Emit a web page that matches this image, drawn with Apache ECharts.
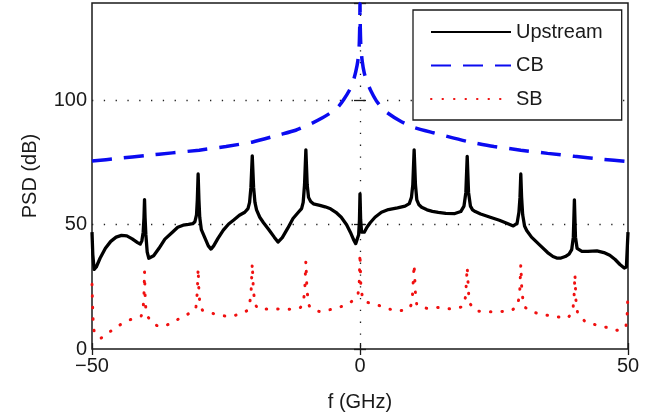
<!DOCTYPE html>
<html>
<head>
<meta charset="utf-8">
<script src="https://cdn.jsdelivr.net/npm/echarts@6/dist/echarts.min.js"></script>
<style>
  html, body { margin: 0; padding: 0; background: #fff; }
  #chart { width: 663px; height: 417px; }
</style>
</head>
<body>
<div id="chart"></div>
<script>
// Power spectral density versus frequency offset
const xTicks = [-50, 0, 50];
const yTicks = [0, 50, 100];

// Upstream spectrum: [f (GHz), PSD (dB)]
const upstream = [
  [-50, 47], [-49.85, 38], [-49.6, 32], [-49.2, 33], [-48.5, 36.5], [-47.5, 40.5],
  [-46.5, 43.3], [-45.5, 45], [-44.5, 45.7], [-43.5, 45.5], [-42.5, 44.3], [-41.5, 42.8],
  [-41.0, 42.2], [-40.7, 43.5], [-40.45, 47], [-40.3, 53], [-40.2, 60.1], [-40.1, 53],
  [-39.95, 46], [-39.7, 39], [-39.4, 36.5], [-39.1, 36.2], [-38.5, 37.5], [-37.5, 40.5],
  [-36.4, 44.2], [-35, 47], [-34, 49], [-33, 49.8], [-32, 50.1], [-31.2, 50.4],
  [-30.8, 51.2], [-30.5, 54], [-30.35, 60], [-30.2, 70.4], [-30.05, 60], [-29.9, 53],
  [-29.6, 48], [-29, 45], [-28.3, 41.5], [-27.8, 40.2], [-27.3, 41.5], [-26.5, 44.5],
  [-25.5, 47.8], [-24.5, 50.3], [-23.5, 52], [-22.5, 53.8], [-21.5, 55], [-20.9, 56.5],
  [-20.6, 59], [-20.35, 65], [-20.1, 77.7], [-19.85, 65], [-19.6, 59], [-19.3, 56],
  [-18.7, 53], [-18, 50.8], [-17, 48], [-16, 45], [-15.3, 43], [-15.1, 43],
  [-14.5, 44.8], [-13.5, 48.5], [-12.5, 52.5], [-11.5, 55], [-10.9, 56.5], [-10.6, 59],
  [-10.35, 66], [-10.1, 80.1], [-9.85, 66], [-9.6, 61], [-9.2, 59.3], [-8.7, 58.4],
  [-7.5, 57.8], [-6.5, 57.2], [-5.5, 56.4], [-4.5, 55], [-3.5, 53], [-2.5, 50],
  [-1.8, 47], [-1.2, 44], [-0.8, 42.4], [-0.5, 42.8], [-0.25, 46], [-0.1, 52],
  [0, 62.4], [0.12, 52], [0.3, 47], [0.5, 46.4], [0.8, 47], [1.3, 49],
  [1.9, 50.8], [2.8, 53], [4, 55], [5.3, 56.1], [7, 56.8], [8.4, 57.5],
  [9.2, 58.5], [9.6, 61], [9.85, 66], [10.1, 80.1], [10.35, 66], [10.6, 60],
  [11, 58], [11.5, 57], [12.5, 56], [13.5, 55.4], [14.6, 55], [16, 54.6],
  [17.7, 54.5], [18.8, 55.3], [19.4, 57.5], [19.75, 63], [20, 77.5], [20.25, 63],
  [20.6, 57.5], [21, 56], [21.5, 55.3], [22.5, 54.3], [24.3, 53], [26, 51.8],
  [27.5, 50.5], [28.6, 49.5], [29.3, 50.5], [29.65, 55], [29.85, 61], [30, 70.4],
  [30.15, 61], [30.35, 54], [30.7, 49.5], [31.1, 47.7], [32, 45], [33.6, 41.7],
  [35, 38.8], [36, 37.2], [36.7, 36.6], [37.5, 36.6], [38.3, 37.2], [39, 38.2],
  [39.5, 40], [39.8, 45], [40, 60], [40.2, 45], [40.5, 40.5], [41.4, 39.3],
  [42.5, 39.3], [44.2, 39.5], [45.5, 38.8], [46.6, 37.7], [47.6, 36], [48.5, 34],
  [49.3, 32.6], [49.7, 33], [50, 47]
];

// CB spectrum
const cb = [
  [-50, 75.6], [-45, 76.7], [-40, 77.8], [-35, 78.9], [-30, 80.0], [-25, 81.5],
  [-20, 83.3], [-15, 86.2], [-12, 88.0], [-9, 90.8], [-7, 93], [-5, 95.7],
  [-4, 97.6], [-3, 100.5], [-2, 104], [-1.3, 107.5], [-0.8, 111.5], [-0.4, 116],
  [-0.15, 122], [-0.03, 132], [0, 139], [0.03, 132], [0.15, 122], [0.4, 116],
  [0.8, 111], [1.3, 107.5], [2, 104], [3, 100], [4, 97.2], [5, 95.2],
  [7.5, 91.7], [10, 89.2], [13.7, 87], [20, 83.5], [25, 81.5], [30, 80],
  [35, 78.7], [40, 77.5], [45, 76.4], [50, 75.4]
];

// SB spectrum
const sb = [
  [-50, 26], [-49.9, 18], [-49.75, 9], [-49.5, 6], [-48.3, 4.4], [-46.5, 7.2],
  [-44.8, 9.7], [-43, 11.7], [-41.5, 12.8], [-40.8, 13.3], [-40.45, 16.5], [-40.3, 22],
  [-40.2, 31.3], [-40.1, 22], [-39.95, 16], [-39.6, 13], [-39.4, 12.4], [-38.5, 10],
  [-37.4, 9], [-35.5, 10], [-33.6, 12.4], [-31.8, 14.4], [-31, 15.2], [-30.6, 17],
  [-30.35, 23], [-30.2, 32.4], [-30.05, 23], [-29.85, 17.5], [-29.4, 15.6], [-28.5, 15],
  [-26.5, 13.7], [-24.3, 13], [-22.3, 14.1], [-21, 15.5], [-20.6, 17.5], [-20.3, 24],
  [-20.1, 34.4], [-19.9, 24], [-19.6, 18], [-19, 16.1], [-16.8, 16.1], [-13, 16],
  [-11.2, 16.5], [-10.6, 18], [-10.3, 24], [-10.1, 35.3], [-9.9, 24], [-9.6, 18],
  [-9.3, 16.7], [-7.5, 15], [-5, 16.1], [-2.5, 17.7], [-1, 20], [-0.4, 21.5],
  [-0.15, 26], [0, 38.4], [0.15, 26], [0.45, 20.5], [0.9, 19], [2.9, 18],
  [5, 16.4], [6.7, 15.3], [8.8, 15.7], [9.5, 17.5], [9.8, 22], [10.1, 34],
  [10.35, 22], [10.6, 17.7], [12.4, 16.4], [14.6, 16.7], [17.1, 16.1], [19.2, 17],
  [19.7, 21], [20, 33], [20.3, 21], [20.6, 18], [21.6, 15.3], [23.8, 15],
  [25.8, 15], [28, 15.3], [29.4, 17], [29.8, 23], [30, 34], [30.2, 23],
  [30.6, 17], [32.3, 14.8], [34.5, 13.7], [36.7, 13], [38.7, 12.4], [39.6, 14.5],
  [39.9, 19], [40.1, 30], [40.3, 19], [40.6, 14.4], [42, 11], [44, 9.7],
  [46, 8.7], [48, 7.5], [49.6, 8.7], [49.85, 14], [50, 23]
];

const FONT = 'Liberation Sans, Arial, sans-serif';
const INK = '#1a1a1a';

const chart = echarts.init(document.getElementById('chart'), null, { renderer: 'canvas' });

const tickFmt = (v) => (yTicks.includes(v) || xTicks.includes(v)) ? String(v).replace('-', '\u2212') : '';
const dotted = { color: '#222', width: 1.3, type: [1.3, 10.5] };
const tickStyle = { color: INK, width: 1.3 };

chart.setOption({
  animation: false,
  backgroundColor: '#fff',
  grid: { left: 92, right: 35, top: 3, bottom: 66, show: true, borderColor: INK, borderWidth: 1.5, backgroundColor: 'transparent' },
  legend: {
    orient: 'vertical',
    left: 413,
    top: 10,
    padding: [12, 19, 11, 17],
    itemWidth: 80,
    itemHeight: 20,
    itemGap: 13.5,
    itemTextGap: 9,
    itemStyle: { opacity: 0 },
    backgroundColor: '#fff',
    borderColor: INK,
    borderWidth: 1.3,
    borderRadius: 0,
    textStyle: { fontFamily: FONT, fontSize: 20, color: INK, lineHeight: 20 },
    data: ['Upstream', 'CB', 'SB']
  },
  xAxis: [{
    type: 'value', min: -50, max: 50, interval: 50,
    name: 'f (GHz)', nameLocation: 'middle', nameGap: 43,
    nameTextStyle: { fontFamily: FONT, fontSize: 20, color: INK },
    axisLine: { show: false },
    axisTick: { show: true, inside: true, length: 6, lineStyle: tickStyle },
    axisLabel: { fontFamily: FONT, fontSize: 20, color: INK, margin: 7, formatter: tickFmt },
    splitLine: { show: true, lineStyle: dotted, showMinLine: false, showMaxLine: false }
  }, {
    type: 'value', min: -50, max: 50, interval: 50, position: 'top',
    axisLine: { show: false },
    axisTick: { show: true, inside: true, length: 6, lineStyle: tickStyle },
    axisLabel: { show: false },
    splitLine: { show: false }
  }],
  yAxis: [{
    type: 'value', min: 0, max: 139.2, interval: 50,
    name: 'PSD (dB)', nameLocation: 'middle', nameGap: 52,
    nameTextStyle: { fontFamily: FONT, fontSize: 20, color: INK },
    axisLine: { show: false },
    axisTick: { show: true, inside: true, length: 6, lineStyle: tickStyle },
    axisLabel: { fontFamily: FONT, fontSize: 20, color: INK, margin: 5, formatter: tickFmt },
    splitLine: { show: true, lineStyle: dotted, showMinLine: false, showMaxLine: false }
  }, {
    type: 'value', min: 0, max: 139.2, interval: 50, position: 'right',
    axisLine: { show: false },
    axisTick: { show: true, inside: true, length: 6, lineStyle: tickStyle },
    axisLabel: { show: false },
    splitLine: { show: false }
  }],
  series: [
    {
      name: 'Upstream', type: 'line', data: upstream, showSymbol: false, symbol: 'none',
      lineStyle: { color: '#000', width: 3.3, join: 'round' }, itemStyle: { color: '#000' }, z: 3
    },
    {
      name: 'CB', type: 'line', data: cb, showSymbol: false, symbol: 'none', smooth: 0.2,
      lineStyle: { color: '#0b0bf0', width: 3.5, type: [20, 12] }, itemStyle: { color: '#0b0bf0' }, z: 2
    },
    {
      name: 'SB', type: 'line', data: sb, showSymbol: false, symbol: 'none',
      lineStyle: { color: '#f01010', width: 3, type: [0.5, 11], cap: 'round' }, itemStyle: { color: '#f01010' }, z: 2
    }
  ]
});
</script>
</body>
</html>
